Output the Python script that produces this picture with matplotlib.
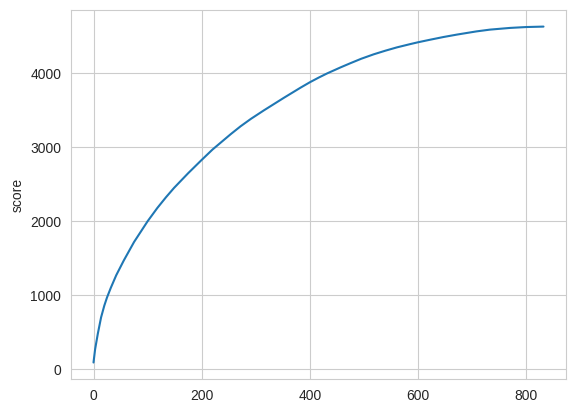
import matplotlib
matplotlib.use("Agg")
import matplotlib.pyplot as plt
import seaborn as sns

# score
step = [0, 3, 8, 14, 20, 25, 32, 42, 56, 75, 100, 118, 134, 149, 175, 200,
        220, 254, 272, 291, 315, 352, 383, 400, 416, 432, 457, 475, 495,
        518, 540, 561, 586, 600, 622, 647, 672, 708, 733, 770, 800, 832]
score = [90, 270, 480, 700, 860, 970, 1100, 1270, 1470, 1720, 2000, 2180,
         2325, 2452, 2650, 2830, 2970, 3180, 3285, 3385, 3500, 3670, 3808,
         3880, 3942, 4000, 4082, 4138, 4198, 4258, 4308, 4352, 4397, 4421,
         4455, 4492, 4525, 4568, 4592, 4615, 4627, 4633]

sns.set_style("whitegrid")
plt.rcParams['font.family'] = ['Liberation Sans', 'DejaVu Sans']

fig = plt.figure(figsize=(5.76, 4.13), dpi=100)
ax = fig.add_axes([71 / 576, (413 - 379.3) / 413, 495 / 576, 369.5 / 413])
ax.plot(step, score, color="#1f77b4", linewidth=1.5)
ax.set_ylabel("score")

fig.savefig("out.png", dpi=100)
